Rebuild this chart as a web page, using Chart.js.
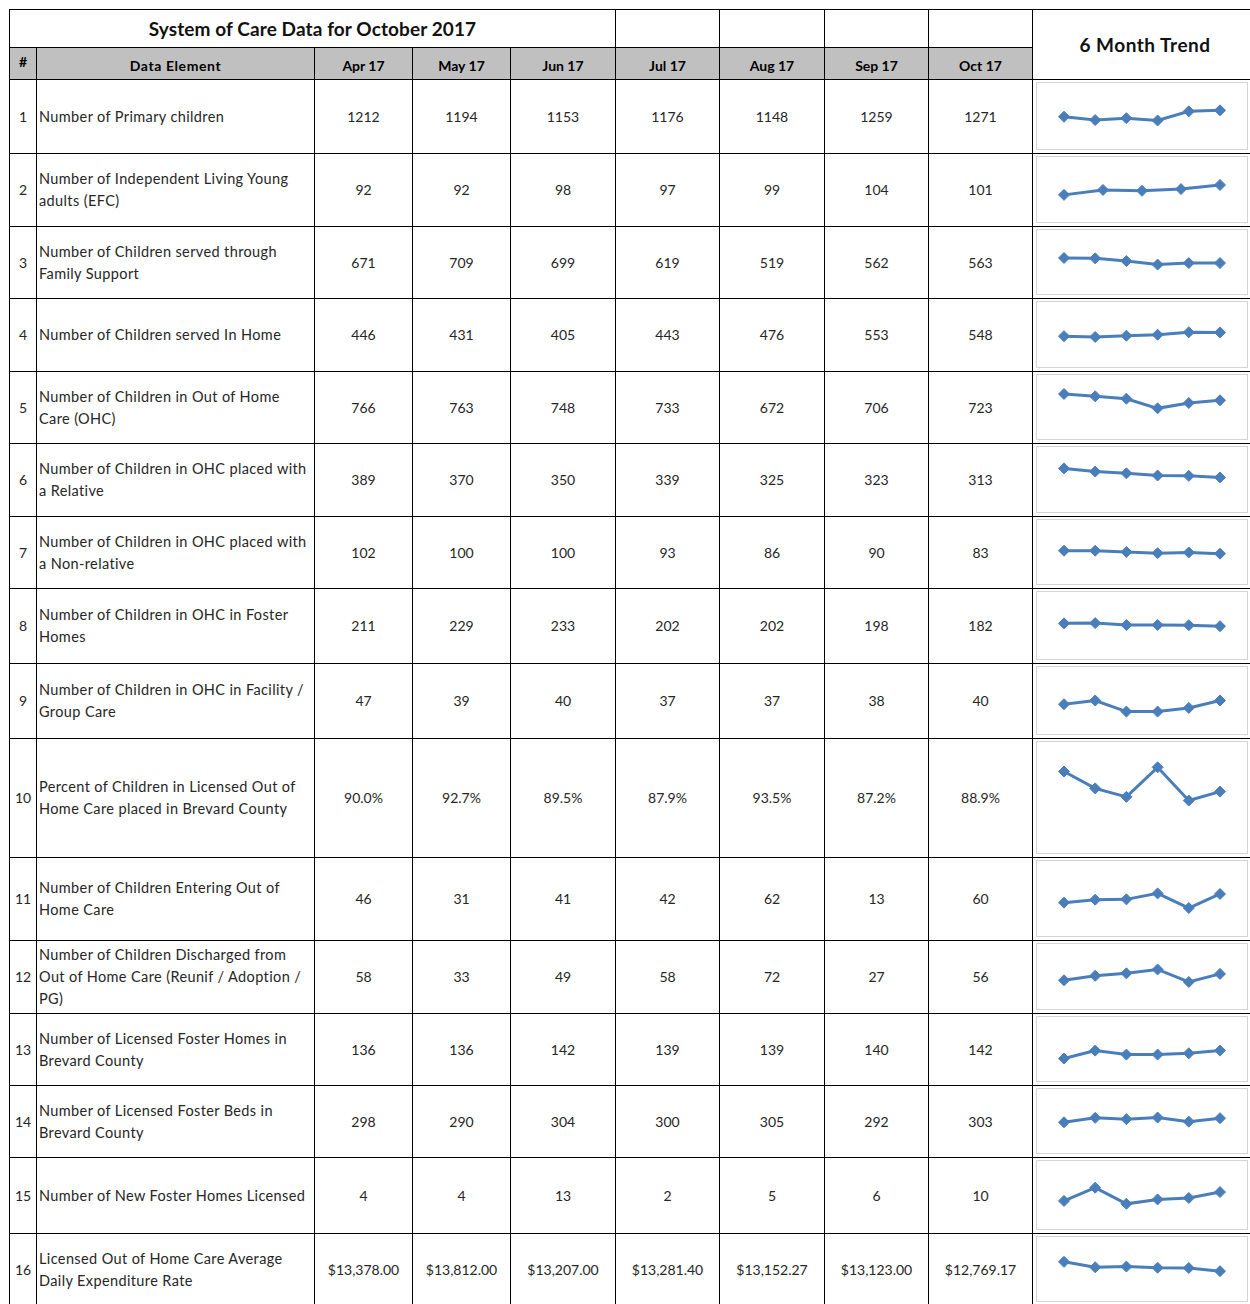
<!DOCTYPE html>
<html><head><meta charset="utf-8">
<script src="https://cdn.jsdelivr.net/npm/chart.js@4.4.1/dist/chart.umd.min.js"></script>
<style>
html,body{margin:0;padding:0;background:#fff;width:1250px;height:1304px;overflow:hidden;}
#sheet{position:relative;width:1250px;height:1304px;font-family:Lato,"Open Sans",sans-serif;color:#262626;}
.c{position:absolute;box-sizing:border-box;border:1px solid #000;display:flex;align-items:center;justify-content:center;white-space:pre;font-size:14px;line-height:22px;background:#fff;}
.hd{background:#c0c0c0;font-weight:700;color:#000;align-items:flex-end;padding-bottom:2px;}
.el{justify-content:flex-start;padding-left:2px;font-size:14.5px;letter-spacing:0.38px;}
.box{position:absolute;box-sizing:border-box;border:1px solid #d4d4d4;background:#fff;}
.box canvas{display:block;}
</style></head><body><div id="sheet"></div>
<script>
// ---- data ----
const title = "System of Care Data for October 2017";
const trendTitle = "6 Month Trend";
const months = ["Apr 17","May 17","Jun 17","Jul 17","Aug 17","Sep 17","Oct 17"];
const rowNumbers = [1,2,3,4,5,6,7,8,9,10,11,12,13,14,15,16];
const dataElements = [
  "Number of Primary children",
  "Number of Independent Living Young\nadults (EFC)",
  "Number of Children served through\nFamily Support",
  "Number of Children served In Home",
  "Number of Children in Out of Home\nCare (OHC)",
  "Number of Children in OHC placed with\na Relative",
  "Number of Children in OHC placed with\na Non-relative",
  "Number of Children in OHC in Foster\nHomes",
  "Number of Children in OHC in Facility /\nGroup Care",
  "Percent of Children in Licensed Out of\nHome Care placed in Brevard County",
  "Number of Children Entering Out of\nHome Care",
  "Number of Children Discharged from\nOut of Home Care (Reunif / Adoption /\nPG)",
  "Number of Licensed Foster Homes in\nBrevard County",
  "Number of Licensed Foster Beds in\nBrevard County",
  "Number of New Foster Homes Licensed",
  "Licensed Out of Home Care Average\nDaily Expenditure Rate"
];
const primaryChildren      = [1212,1194,1153,1176,1148,1259,1271];
const independentLiving    = [92,92,98,97,99,104,101];
const familySupport        = [671,709,699,619,519,562,563];
const servedInHome         = [446,431,405,443,476,553,548];
const outOfHomeCare        = [766,763,748,733,672,706,723];
const ohcRelative          = [389,370,350,339,325,323,313];
const ohcNonRelative       = [102,100,100,93,86,90,83];
const ohcFosterHomes       = [211,229,233,202,202,198,182];
const ohcFacility          = [47,39,40,37,37,38,40];
const pctInBrevard         = [90.0,92.7,89.5,87.9,93.5,87.2,88.9];
const enteringOHC          = [46,31,41,42,62,13,60];
const dischargedOHC        = [58,33,49,58,72,27,56];
const licensedHomes        = [136,136,142,139,139,140,142];
const licensedBeds         = [298,290,304,300,305,292,303];
const newHomesLicensed     = [4,4,13,2,5,6,10];
const dailyExpenditure     = [13378.00,13812.00,13207.00,13281.40,13152.27,13123.00,12769.17];
const rowSeries = [primaryChildren,independentLiving,familySupport,servedInHome,outOfHomeCare,
  ohcRelative,ohcNonRelative,ohcFosterHomes,ohcFacility,pctInBrevard,enteringOHC,dischargedOHC,
  licensedHomes,licensedBeds,newHomesLicensed,dailyExpenditure];
const rowFormat = ["int","int","int","int","int","int","int","int","int","pct","int","int","int","int","int","usd"];
// 6-month trend window (month index from, to exclusive) per row
const trendFrom = [1,1,1,1,1,1,1,1,1,1,1,1,1,1,1,1];
const trendTo   = [7,6,7,7,7,7,7,7,7,7,7,7,7,7,7,7];
// sparkline value-axis bounds per row (Excel auto scale)
const trendAxisMin = [882,67,-140,-330,519,136,-53,-253,32.7,78.5,-59,-47,124,214,-10.7,10158];
const trendAxisMax = [1523,130,1327,1295,842,464,238,640,47.3,97.06,148.7,140.3,162.4,374.25,26.7,15862];

// ---- layout ----
const colEdges = [9,36,314,412,510,615,719,824,928,1032,1253];
const rowEdges = [9,47,79,153,226,298,371,443,516,588,663,738,857,940,1013,1085,1157,1233,1305];
const sheet = document.getElementById('sheet');
function cell(x0,y0,x1,y1,text,cls,style){
  const d=document.createElement('div');
  d.className='c'+(cls?' '+cls:'');
  d.style.left=x0+'px'; d.style.top=y0+'px';
  d.style.width=(x1-x0+1)+'px'; d.style.height=(y1-y0+1)+'px';
  if(style) Object.assign(d.style,style);
  d.textContent=text||'';
  sheet.appendChild(d); return d;
}
function fmt(v,f){
  if(f==='pct') return v.toFixed(1)+'%';
  if(f==='usd') return '$'+v.toLocaleString('en-US',{minimumFractionDigits:2,maximumFractionDigits:2});
  return String(v);
}
// title row
cell(colEdges[0],rowEdges[0],colEdges[5],rowEdges[1],title,'',{fontSize:'19px',fontWeight:'700',color:'#111',letterSpacing:'0.1px'});
for(let k=5;k<9;k++) cell(colEdges[k],rowEdges[0],colEdges[k+1],rowEdges[1],'');
cell(colEdges[9],rowEdges[0],colEdges[10],rowEdges[2],trendTitle,'',{fontSize:'19px',fontWeight:'700',color:'#111',letterSpacing:'0.5px',paddingLeft:'4px'});
// header row
cell(colEdges[0],rowEdges[1],colEdges[1],rowEdges[2],'#','hd',{alignItems:'center',paddingBottom:'4px'});
cell(colEdges[1],rowEdges[1],colEdges[2],rowEdges[2],'Data Element','hd',{letterSpacing:'0.6px'});
months.forEach((m,k)=>cell(colEdges[k+2],rowEdges[1],colEdges[k+3],rowEdges[2],m,'hd'));
// body
const charts=[];
rowNumbers.forEach((n,i)=>{
  const y0=rowEdges[i+2], y1=rowEdges[i+3];
  cell(colEdges[0],y0,colEdges[1],y1,String(n));
  cell(colEdges[1],y0,colEdges[2],y1,dataElements[i],'el');
  rowSeries[i].forEach((v,k)=>cell(colEdges[k+2],y0,colEdges[k+3],y1,fmt(v,rowFormat[i])));
  cell(colEdges[9],y0,colEdges[10],y1,'');
  const box=document.createElement('div');
  box.className='box';
  const bx=colEdges[9]+4, by=y0+3, bw=212, bh=(y1-y0)-6;
  Object.assign(box.style,{left:bx+'px',top:by+'px',width:bw+'px',height:bh+'px'});
  const cv=document.createElement('canvas');
  cv.width=bw-2; cv.height=bh-2;
  box.appendChild(cv); sheet.appendChild(box);
  const labels=months.slice(trendFrom[i],trendTo[i]);
  const vals=rowSeries[i].slice(trendFrom[i],trendTo[i]);
  charts.push(new Chart(cv,{
    type:'line',
    data:{labels:labels,datasets:[{data:vals,borderColor:'#4a7ebb',backgroundColor:'#4a7ebb',
      borderWidth:3,pointStyle:'rectRot',pointRadius:5.5,pointBorderWidth:1,pointBorderColor:'#4a7ebb',
      pointBackgroundColor:'#4a7ebb',tension:0,clip:false}]},
    options:{responsive:false,animation:false,devicePixelRatio:1,
      layout:{padding:{left:27,right:27,top:0,bottom:0}},
      plugins:{legend:{display:false},tooltip:{enabled:false}},
      scales:{x:{display:false,offset:false},y:{display:false,min:trendAxisMin[i],max:trendAxisMax[i]}}}
  }));
});
</script></body></html>
